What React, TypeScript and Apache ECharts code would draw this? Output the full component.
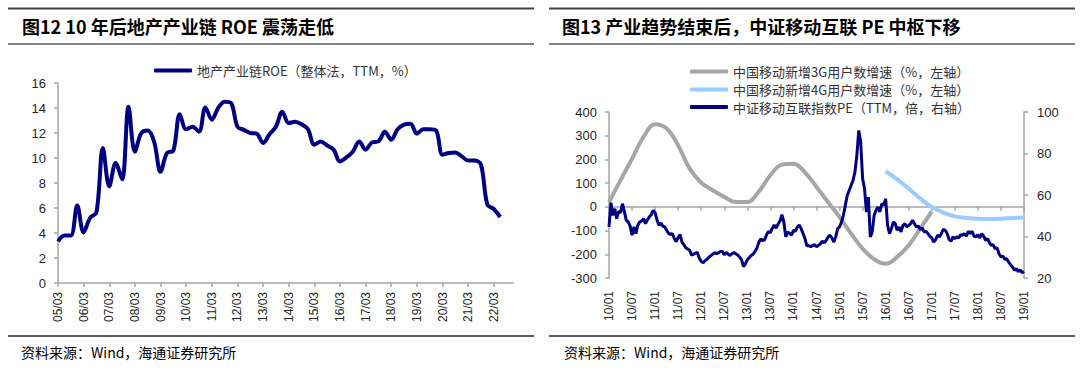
import React, { useEffect, useRef } from "react";
import * as echarts from "echarts";

// ---------- Left chart data (quarterly, 05/03 .. 22/12) ----------
const ROE_YEARS = [5, 6, 7, 8, 9, 10, 11, 12, 13, 14, 15, 16, 17, 18, 19, 20, 21, 22];
const ROE_MONTHS = ["03", "06", "09", "12"];
const roeQuarters: string[] = [];
ROE_YEARS.forEach((y) => ROE_MONTHS.forEach((m) => roeQuarters.push(`${String(y).padStart(2, "0")}/${m}`)));

const roeValues: (number | null)[] = [
  3.33, 3.8, 3.8, 6.2, 4.05, 5.2, 5.65, 10.8, 7.73, 9.6,
  8.3, 14.1, 10.5, 12.0, 12.2, 11.3, 8.9, 10.4, 10.6, 13.5,
  12.3, 12.5, 12.1, 14.05, 13.07, 14.0, 14.5, 14.4, 12.5, 12.25,
  12.0, 11.95, 11.2, 11.9, 12.5, 13.7, 12.8, 12.9, 12.7, 12.3,
  11.07, 11.33, 11.0, 10.67, 9.73, 10.05, 10.5, 11.33, 10.67, 11.25,
  11.33, 12.1, 11.47, 12.3, 12.67, 12.75, 11.95, 12.3, 12.3, 12.2,
  10.27, 10.4, 10.45, 10.13, 9.8, 9.8, 9.47, 6.27, 5.92, 5.28,
  null, null,
];

// ---------- Right chart data (x in months since 2010/01) ----------
// 3G growth, every 3 months from 2010/01
const g3Start = 0;
const g3Values = [
  20, 112, 203, 295, 348, 330, 259, 161, 102, 70, 42, 20, 20, 65, 133, 178, 182, 145,
  84, 20, -43, -113, -176, -221, -240, -211, -162, -92, -19,
];
// 4G growth, every 3 months from 2016/01
const g4Start = 72;
const g4Values = [150, 116, 77, 35, -1, -24, -40, -47, -50, -51, -50, -47, -45];
// PE (TTM), every half month from 2010/01
const peStep = 0.5;
const peValues = [
  44.6, 56.3, 50.2, 53.4, 48.6, 52.1, 51.5, 55.8, 52, 47.8,
  47, 45, 40.6, 44.6, 41.4, 45.5, 47, 47.5, 48.6, 46.2,
  48, 49.5, 50.5, 52.6, 51.5, 48, 45.4, 46.5, 45, 44.6,
  43, 41.5, 41, 41.4, 39, 37.5, 39.5, 41, 37.3, 36,
  34.5, 34, 33.3, 31, 31.5, 32, 32.3, 29.5, 28, 27.3,
  28.3, 29, 30, 30.8, 31.5, 32.2, 31.7, 32.2, 32.8, 32.8,
  31.2, 32.3, 31.5, 30.9, 31.7, 32.3, 31.7, 31, 30.1, 28.8,
  25.5, 26.8, 28.8, 29.8, 30.9, 31.5, 32.8, 34.5, 37.3, 38.8,
  38, 38.5, 40.8, 42.4, 41.8, 44, 45.5, 44, 46, 47.5,
  50.5, 47, 39.8, 42.2, 41.5, 40.6, 43, 42.5, 44.5, 45.5,
  43.8, 41.4, 39, 35.5, 35.7, 35.1, 35.7, 36, 35.1, 35.7,
  36.5, 37.7, 37, 38.1, 39.8, 40.6, 39.3, 37.3, 39.8, 43.8,
  44.6, 47, 50.2, 55, 59.8, 62.2, 64.6, 67, 71, 79.1,
  91.1, 85.5, 67.9, 63, 51.8, 59, 39.8, 42.2, 50.2, 52.6,
  54.2, 51.8, 55.8, 55, 58.2, 45.4, 41.4, 43.8, 47, 46.2,
  43, 44.6, 42.2, 45.4, 46.2, 44.6, 45.4, 46.2, 47.8, 46.2,
  44.6, 45, 43.4, 44.1, 42.2, 42.5, 41.4, 40.1, 39.3, 37.3,
  38.5, 40.6, 39.8, 41.4, 43.4, 43, 41.4, 38.6, 37.7, 39.8,
  39, 39.8, 39.3, 40.9, 40.6, 41.4, 40.2, 42.5, 41.4, 42.5,
  40.2, 39.8, 40.9, 39.3, 41.4, 40.2, 38.1, 39, 37, 35.7,
  36, 34.1, 34.5, 31.7, 30.1, 30.6, 29, 29.3, 27.7, 26.4,
  25.3, 23.7, 24.5, 23, 24, 22.5, 23.2,
];

const SERIES_ROE = "地产产业链ROE（整体法，TTM，%）";
const SERIES_3G = "中国移动新增3G用户数增速（%，左轴）";
const SERIES_4G = "中国移动新增4G用户数增速（%，左轴）";
const SERIES_PE = "中证移动互联指数PE（TTM，倍，右轴）";

const TITLE_L = "图12 10 年后地产产业链 ROE 震荡走低";
const TITLE_R = "图13 产业趋势结束后，中证移动互联 PE 中枢下移";
const SOURCE = "资料来源：Wind，海通证券研究所";

const LATIN = "'Liberation Sans', Arial, sans-serif";
const CJK = "'Noto Sans CJK SC', sans-serif";
const AXIS_COLOR = "#A6A6A6";
const LABEL_COLOR = "#262626";
const NAVY = "#000080";

export default function App() {
  const ref = useRef<HTMLDivElement>(null);
  useEffect(() => {
    if (!ref.current) return;
    const chart = echarts.init(ref.current, undefined, { renderer: "svg" });

    const axisLineStyle = { color: AXIS_COLOR, width: 1.5 };
    const labelStyle = { fontSize: 12, color: LABEL_COLOR, fontFamily: LATIN };

    const monthLabel = (v: number) => {
      const y = 10 + Math.floor(v / 12);
      const mo = (v % 12) + 1;
      return `${y}/${String(mo).padStart(2, "0")}`;
    };

    const rule = (x1: number, x2: number, y: number, w: number, c: string) => ({
      type: "line",
      shape: { x1, y1: y, x2, y2: y },
      style: { stroke: c, lineWidth: w },
      silent: true,
    });
    const txt = (x: number, y: number, text: string, font: string) => ({
      type: "text",
      x,
      y,
      style: { text, font, fill: "#000", textVerticalAlign: "middle", textAlign: "left" },
      silent: true,
    });

    const legendBase = {
      itemWidth: 38,
      itemHeight: 4,
      icon: "roundRect",
      textStyle: { fontSize: 13, color: "#333", fontFamily: CJK },
    };

    const option: any = {
      animation: false,
      grid: [
        { left: 58, top: 83, width: 455, height: 200, containLabel: false, outerBoundsMode: "none" },
        { left: 609, top: 112, width: 415, height: 166, containLabel: false, outerBoundsMode: "none" },
      ],
      legend: [
        { ...legendBase, data: [SERIES_ROE], left: 149, top: 59 },
        { ...legendBase, data: [SERIES_3G], left: 685, top: 60 },
        { ...legendBase, data: [SERIES_4G], left: 685, top: 78 },
        { ...legendBase, data: [SERIES_PE], left: 685, top: 95.5 },
      ],
      xAxis: [
        {
          type: "category",
          gridIndex: 0,
          data: roeQuarters,
          boundaryGap: false,
          axisLine: { lineStyle: axisLineStyle },
          axisTick: { interval: 3, length: 4, lineStyle: { color: AXIS_COLOR, width: 1.5 } },
          axisLabel: { ...labelStyle, interval: 3, rotate: 90, margin: 9 },
          splitLine: { show: false },
        },
        {
          type: "value",
          gridIndex: 1,
          min: 0,
          max: 108,
          interval: 6,
          axisLine: { onZero: true, onZeroAxisIndex: 1, lineStyle: axisLineStyle },
          axisTick: { length: 4, lineStyle: { color: AXIS_COLOR, width: 1.5 } },
          axisLabel: { ...labelStyle, rotate: 90, margin: 13, formatter: monthLabel },
          splitLine: { show: false },
        },
      ],
      yAxis: [
        {
          type: "value",
          gridIndex: 0,
          min: 0,
          max: 16,
          interval: 2,
          axisLine: { show: true, onZero: false, lineStyle: axisLineStyle },
          axisTick: { show: true, length: 4, lineStyle: { color: AXIS_COLOR, width: 1.5 } },
          axisLabel: { ...labelStyle, fontSize: 13, margin: 12 },
          splitLine: { show: false },
        },
        {
          type: "value",
          gridIndex: 1,
          position: "left",
          min: -300,
          max: 400,
          interval: 100,
          axisLine: { show: true, onZero: false, lineStyle: axisLineStyle },
          axisTick: { show: true, length: 4, lineStyle: { color: AXIS_COLOR, width: 1.5 } },
          axisLabel: { ...labelStyle, fontSize: 13, margin: 12 },
          splitLine: { show: false },
        },
        {
          type: "value",
          gridIndex: 1,
          position: "right",
          min: 20,
          max: 100,
          interval: 20,
          axisLine: { show: true, onZero: false, lineStyle: axisLineStyle },
          axisTick: { show: true, length: 4, lineStyle: { color: AXIS_COLOR, width: 1.5 } },
          axisLabel: { ...labelStyle, fontSize: 13, margin: 13 },
          splitLine: { show: false },
        },
      ],
      series: [
        {
          name: SERIES_ROE,
          type: "line",
          xAxisIndex: 0,
          yAxisIndex: 0,
          data: roeValues,
          smooth: 0.35,
          showSymbol: false,
          symbol: "none",
          lineStyle: { color: NAVY, width: 4 },
          itemStyle: { color: NAVY },
        },
        {
          name: SERIES_3G,
          type: "line",
          xAxisIndex: 1,
          yAxisIndex: 1,
          data: g3Values.map((v, i) => [g3Start + 3 * i, v]),
          smooth: 0.4,
          showSymbol: false,
          symbol: "none",
          lineStyle: { color: "#A6A6A6", width: 4 },
          itemStyle: { color: "#A6A6A6" },
        },
        {
          name: SERIES_4G,
          type: "line",
          xAxisIndex: 1,
          yAxisIndex: 1,
          data: g4Values.map((v, i) => [g4Start + 3 * i, v]),
          smooth: 0.4,
          showSymbol: false,
          symbol: "none",
          lineStyle: { color: "#99CCFF", width: 4 },
          itemStyle: { color: "#99CCFF" },
        },
        {
          name: SERIES_PE,
          type: "line",
          xAxisIndex: 1,
          yAxisIndex: 2,
          data: peValues.map((v, i) => [i * peStep, v]),
          showSymbol: false,
          symbol: "none",
          lineStyle: { color: NAVY, width: 3 },
          itemStyle: { color: NAVY },
        },
      ],
      graphic: [
        rule(8, 534, 8.5, 2, "#404040"),
        rule(549, 1075, 8.5, 2, "#404040"),
        rule(8, 534, 44, 1.5, "#5a5a5a"),
        rule(549, 1075, 44, 1.5, "#5a5a5a"),
        rule(8, 534, 336, 2, "#5a5a5a"),
        rule(549, 1075, 336, 2, "#5a5a5a"),
        txt(22, 26, TITLE_L, `bold 18px ${CJK}`),
        txt(562, 26, TITLE_R, `bold 18px ${CJK}`),
        txt(21, 352, SOURCE, `14px ${CJK}`),
        txt(564, 352, SOURCE, `14px ${CJK}`),
      ],
    };

    chart.setOption(option);
    return () => chart.dispose();
  }, []);

  return (
    <div
      ref={ref}
      style={{ position: "fixed", left: 0, top: 0, width: 1080, height: 371, background: "#fff" }}
    />
  );
}
